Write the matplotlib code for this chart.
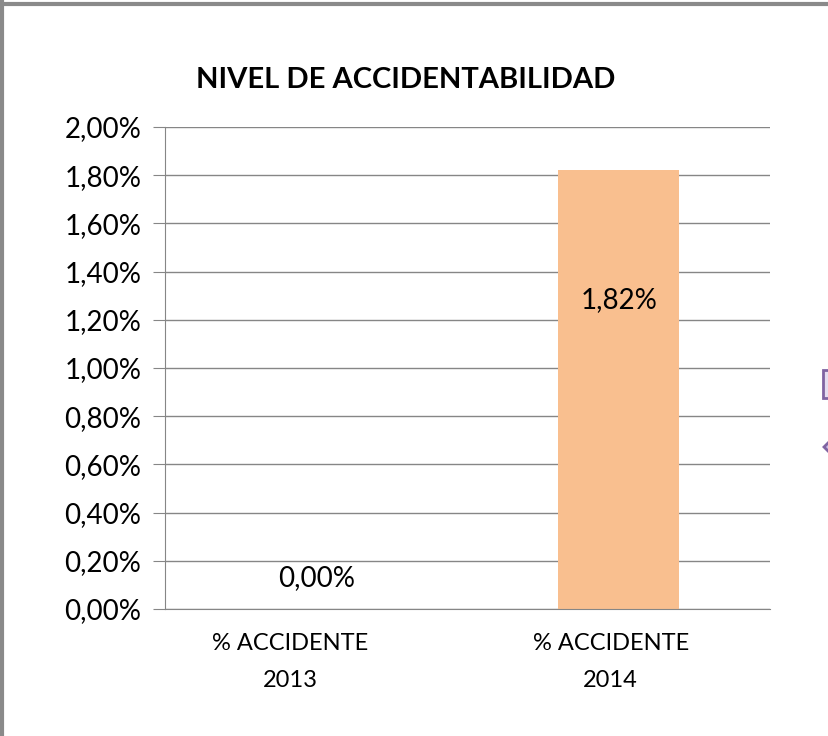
import matplotlib.pyplot as plt
import matplotlib.transforms as mtransforms
from matplotlib.patches import Rectangle, Polygon
from matplotlib.lines import Line2D
from matplotlib.ticker import FuncFormatter, MultipleLocator

plt.rcParams['font.family'] = ['Lato', 'DejaVu Sans']

# datos
categorias = ['% ACCIDENTE\n2013', '% ACCIDENTE\n2014']
valores = [0.0, 1.82]
etiquetas = ['0,00%', '1,82%']

fig = plt.figure(figsize=(8.29, 7.36), dpi=100)
ax = fig.add_axes([165 / 829, 1 - 609 / 736, 605 / 829, 482 / 736])

x = range(len(categorias))
ax.bar(x, valores, width=0.40, color='#F9BF8F', zorder=2)
ax.set_xlim(-0.5, 1.5)
ax.set_ylim(0, 2.0)
ax.yaxis.set_major_locator(MultipleLocator(0.2))
ax.yaxis.set_major_formatter(FuncFormatter(lambda v, p: f'{v:.2f}%'.replace('.', ',')))
ax.grid(axis='y', color='#868686', linewidth=1.0, zorder=0)
ax.tick_params(axis='y', length=9, color='#868686', labelsize=20, pad=8)
ax.tick_params(axis='x', length=0, labelsize=17, pad=17)
ax.set_xticks(list(x))
ax.set_xticklabels(categorias, linespacing=1.95)
# Excel desplaza un poco las etiquetas a la izquierda
for lbl, dx in zip(ax.get_xticklabels(), [-26, -8]):
    lbl.set_transform(lbl.get_transform() + mtransforms.ScaledTranslation(dx / 100, 0, fig.dpi_scale_trans))
for s in ['top', 'right']:
    ax.spines[s].set_visible(False)
ax.spines['left'].set_color('#868686')
ax.spines['bottom'].set_color('#868686')

# etiquetas de datos
ax.text(0, 0.13, etiquetas[0], ha='center', va='center', fontsize=20)
ax.text(1, 1.28, etiquetas[1], ha='center', va='center', fontsize=20)

fig.text(406 / 829, 1 - 80 / 736, 'NIVEL DE ACCIDENTABILIDAD', ha='center', va='center',
         fontsize=21, fontweight='bold')

# marco gris superior e izquierdo
fig.add_artist(Line2D([0, 1], [1 - 4 / 736] * 2, color='#8a8a8a', linewidth=3, transform=fig.transFigure))
fig.add_artist(Line2D([2 / 829] * 2, [0, 1], color='#8a8a8a', linewidth=3, transform=fig.transFigure))

# formas recortadas a la derecha
fig.add_artist(Rectangle((823 / 829, 1 - 398 / 736), 10 / 829, 28 / 736, transform=fig.transFigure,
                         facecolor='#E5DDF0', edgecolor='#8064A2', linewidth=2))
fig.add_artist(Polygon([(824 / 829, 1 - 447 / 736), (832 / 829, 1 - 439 / 736),
                        (832 / 829, 1 - 455 / 736)], closed=True, transform=fig.transFigure,
                       facecolor='#CCC0E6', edgecolor='#8064A2', linewidth=2))

fig.savefig('out.png', dpi=100)
